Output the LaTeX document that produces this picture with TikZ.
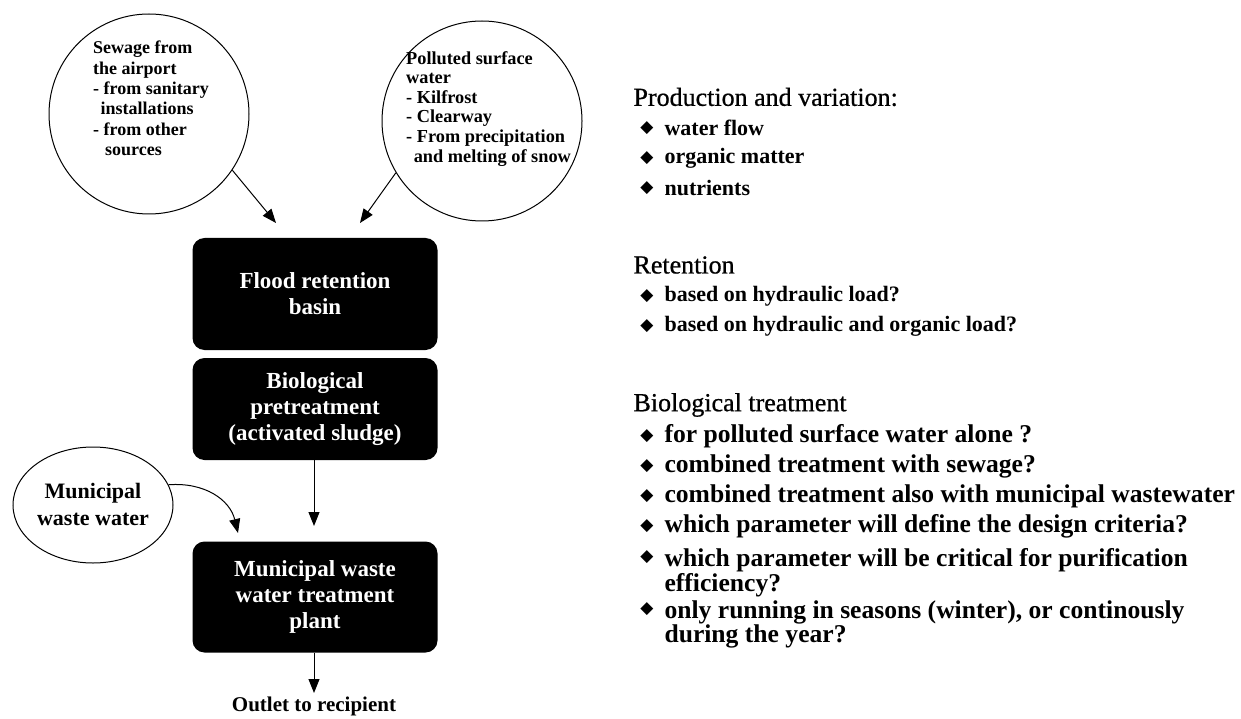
\documentclass[tikz,border=0pt]{standalone}
\usepackage{fontspec}
\setmainfont{Liberation Serif}
\newfontfamily\symfont{DejaVu Sans}
\newfontfamily\headfont[FakeBold=0.7]{Liberation Serif}
\usetikzlibrary{arrows.meta,shapes.geometric}
\tikzset{
  src/.style={draw, line width=1pt, ellipse, inner sep=0pt},
  boxnode/.style={fill=black, rounded corners=12pt, text=white, align=center,
     font=\bfseries\fontsize{23}{26}\selectfont, minimum width=245pt, inner sep=0pt},
  flow/.style={-{Triangle[length=14pt,width=11pt]}, line width=1pt},
  head/.style={anchor=west, font=\headfont\fontsize{26}{30}\selectfont},
  itemA/.style={anchor=west, font=\bfseries\fontsize{22}{20}\selectfont, align=left},
  itemB/.style={anchor=west, font=\bfseries\fontsize{25.6}{21}\selectfont, align=left},
  bul/.style={font=\symfont\fontsize{17}{17}\selectfont},
}
\begin{document}
\begin{tikzpicture}[x=1pt,y=-1pt]
\useasboundingbox (0,0) rectangle (1241,719);
% source circles
\node[draw, line width=1pt, circle, minimum size=200pt] (sew) at (149,114) {};
\node[draw, line width=1pt, circle, minimum size=200pt] (pol) at (482,121) {};
\node[anchor=north west, align=left, font=\bfseries\fontsize{18}{20.3}\selectfont, inner sep=0pt] (sewt) at (93,41)
 {Sewage from\\the airport\\- from sanitary\\\ \,installations\\- from other\\\ \ \,sources};
\node[anchor=north west, align=left, font=\bfseries\fontsize{18.3}{19.6}\selectfont, inner sep=0pt] (polt) at (406,51)
 {Polluted surface\\water\\- Kilfrost\\- Clearway\\- From precipitation\\\ \,and melting of snow};
% boxes
\node[boxnode, minimum height=112pt] (b1) at (315,294) {Flood retention\\basin};
\node[boxnode, minimum height=102pt] (b2) at (315,409) {Biological\\pretreatment\\(activated sludge)};
\node[boxnode, minimum height=111pt] (b3) at (315,597) {Municipal waste\\water treatment\\plant};
\node[font=\bfseries\fontsize{21}{24}\selectfont, inner sep=0pt] (out) at (314,706) {Outlet to recipient};
\node[src, minimum width=160pt, minimum height=116pt] (mun) at (93,505) {};
\node[align=center, font=\bfseries\fontsize{22}{27}\selectfont] (munt) at (93,504) {Municipal\\waste water};
% arrows
\coordinate (a1) at (276,223);
\coordinate (a2) at (360,223);
\draw[flow] (sew.-34) -- (a1);
\draw[flow] (pol.-149) -- (a2);
\coordinate (a3) at (314,526);
\draw[flow] (b2.south -| a3) -- (a3);
\coordinate (a4) at (314,693);
\draw[flow] (b3.south -| a4) -- (a4);
\coordinate (a5) at (238,533);
\draw[flow] (mun.15) .. controls (205,482) and (230,500) .. (a5);
% right text
\node[head] (h1) at (630,97) {Production and variation:};
\foreach \y/\t [count=\i] in {128/water flow,158/organic matter,188/nutrients}{
  \node[bul] (pb\i) at (647,\y) {◆};
  \node[itemA] (pt\i) at (661,\y) {\t};
}
\node[head] (h2) at (630,265) {Retention};
\foreach \y/\t [count=\i] in {296/based on hydraulic load?,326/based on hydraulic and organic load?}{
  \node[bul] (rb\i) at (647,\y) {◆};
  \node[itemA] (rt\i) at (661,\y) {\t};
}
\node[head] (h3) at (630,405) {Biological treatment};
\foreach \y/\t [count=\i] in {436/for polluted surface water alone ?,466/combined treatment with sewage?,496/combined treatment also with municipal wastewater,526/which parameter will define the design criteria?}{
  \node[bul] (bb\i) at (647,\y) {◆};
  \node[itemB] (bt\i) at (661,\y) {\t};
}
\node[bul] (bb5) at (647,557) {◆};
\node[itemB, anchor=north west] (bt5) at (661,545) {which parameter will be critical for purification\\efficiency?};
\node[bul] (bb6) at (647,609) {◆};
\node[itemB, anchor=north west] (bt6) at (661,597) {only running in seasons (winter), or continously\\during the year?};
\end{tikzpicture}
\end{document}
